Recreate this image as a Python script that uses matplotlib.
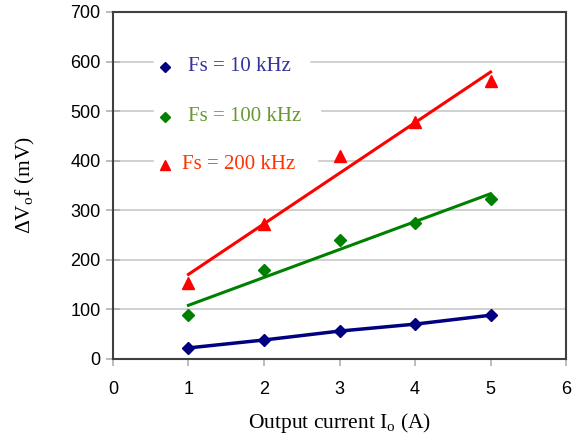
import numpy as np
import matplotlib
matplotlib.use("Agg")
import matplotlib.pyplot as plt

# output current (A)
io = [1, 2, 3, 4, 5]
# ripple (mV)
fs10 = [22, 38, 56, 70, 88]
fs100 = [88, 179, 240, 274, 322]
fs200 = [153, 272, 410, 477, 561]
labels = ["Fs = 10 kHz", "Fs = 100 kHz", "Fs = 200 kHz"]

fig = plt.figure(figsize=(5.73, 4.43), dpi=100)
ax = fig.add_axes([0.197, 0.19, 0.791, 0.783])

for yv in range(100, 700, 100):
    ax.axhline(yv, color="#c8c8c8", lw=1.2, zorder=0)

x = np.array(io)
# blue series drawn through the points, others with linear trend lines
ax.plot(io, fs10, color="#000080", lw=2.5, marker="D", ms=6, zorder=3)
for ys, col, mk, ms in [(fs100, "#008000", "D", 6), (fs200, "#ff0000", "^", 8)]:
    k, b = np.polyfit(x, ys, 1)
    ax.plot(x, k * x + b, color=col, lw=2.2, zorder=2)
    ax.plot(io, ys, ls="none", marker=mk, ms=ms, color=col, zorder=3)

# legend by hand (white boxes over grid)
leg_y = [589, 489, 392]
leg_end = [2.6, 2.74, 2.7]
leg_mk = [("D", "#000080", 5), ("D", "#008000", 5), ("^", "#ff0000", 7)]
leg_tc = ["#333399", "#669933", "#ff3300"]
for i in range(3):
    ax.add_patch(plt.Rectangle((0.55, leg_y[i] - 30), leg_end[i] - 0.55, 60,
                               color="white", zorder=1))
    ax.plot([0.69], [leg_y[i]], marker=leg_mk[i][0], color=leg_mk[i][1],
            ms=leg_mk[i][2], zorder=5, clip_on=False)
    ax.text(0.99 if i < 2 else 0.91, leg_y[i], labels[i], color=leg_tc[i],
            family="Liberation Serif", fontsize=15, va="center", zorder=5)

ax.set_xlim(0, 6)
ax.set_ylim(0, 700)
ax.set_xticks(range(0, 7))
ax.set_yticks(range(0, 800, 100))
for s in ax.spines.values():
    s.set_color("#404040")
    s.set_linewidth(1.5)
ax.tick_params(length=5, width=1.2, color="#b0b0b0", labelsize=13,
               labelfontfamily="Liberation Sans")
ax.tick_params(axis="y", direction="inout", length=10, pad=4)
ax.tick_params(axis="x", direction="out", pad=11)

ax.set_xlabel("Output current I$_\\mathregular{o}$ (A)", family="Liberation Serif",
              fontsize=15.5, labelpad=9)
ax.set_ylabel("$\\mathregular{\\Delta}$V$_\\mathregular{o}$f (mV)", family="Liberation Serif",
              fontsize=15.5, labelpad=24)

fig.savefig("out.png", dpi=100)
